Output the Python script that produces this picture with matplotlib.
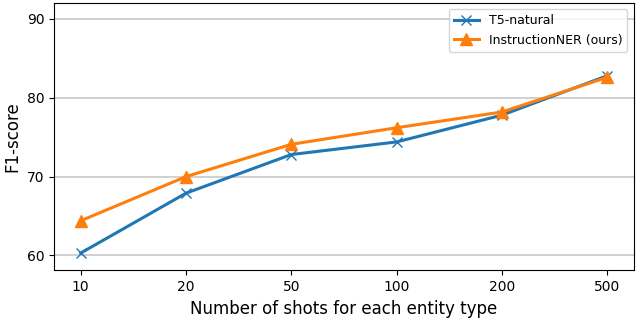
import matplotlib
matplotlib.use("Agg")
import matplotlib.pyplot as plt

shots = ["10", "20", "50", "100", "200", "500"]
t5_natural = [60.3, 67.9, 72.8, 74.4, 77.8, 82.8]
instruction_ner = [64.4, 70.0, 74.1, 76.2, 78.2, 82.6]
yticks = [60, 70, 80, 90]

fig, ax = plt.subplots(figsize=(6.4, 3.2), dpi=100)
x = list(range(len(shots)))
ax.plot(x, t5_natural, marker="x", color="#1f77b4", lw=2.2, ms=7, label="T5-natural")
ax.plot(x, instruction_ner, marker="^", color="#ff7f0e", lw=2.2, ms=8, label="InstructionNER (ours)")
ax.set_xticks(x)
ax.set_xticklabels(shots, fontsize=10)
ax.set_yticks(yticks)
ax.tick_params(axis="y", labelsize=10)
ax.set_ylim(58.1, 92)
ax.yaxis.grid(True, color="#c8c8c8", lw=1.2)
ax.set_axisbelow(True)
ax.set_xlabel("Number of shots for each entity type", fontsize=12)
ax.set_ylabel("F1-score", fontsize=12)
ax.legend(loc="upper right", fontsize=9)
fig.subplots_adjust(left=0.085, right=0.99, top=0.99, bottom=0.155)
fig.savefig("out.png")
